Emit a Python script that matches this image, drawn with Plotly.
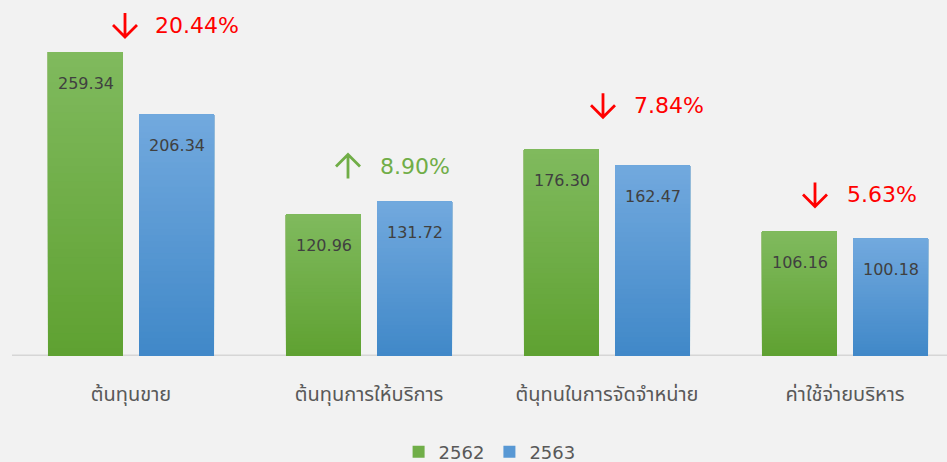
import plotly.graph_objects as go

categories = ["ต้นทุนขาย", "ต้นทุนการให้บริการ", "ต้นุทนในการจัดจำหน่าย", "ค่าใช้จ่ายบริหาร"]
series_names = ["2562", "2563"]
values_2562 = [259.34, 120.96, 176.30, 106.16]
values_2563 = [206.34, 131.72, 162.47, 100.18]
change_pct = ["20.44%", "8.90%", "7.84%", "5.63%"]
change_dir = ["down", "up", "down", "down"]

# styles
grad = {
    "2562": ((0x80, 0xBA, 0x5E), (0x5F, 0xA1, 0x31)),
    "2563": ((0x72, 0xA9, 0xDE), (0x40, 0x88, 0xC8)),
}
legend_col = {"2562": "#70ae48", "2563": "#5898d4"}
arrow_dx = [-6, -21, -4, -30]      # px from category centre
text_dx = [22, 9, 25, 0]
label_dy = [27, 35, 44, 37]        # px above tallest bar
N = 40

x = list(range(len(categories)))
fig = go.Figure()

def mix(c1, c2, t):
    return "rgb(%d,%d,%d)" % tuple(round(a + (b - a) * t) for a, b in zip(c1, c2))

for name, vals in zip(series_names, [values_2562, values_2563]):
    top, bot = grad[name]
    for k in range(N):
        fig.add_trace(go.Bar(
            x=x, y=[v * (N - k) / N for v in vals], base=[v * k / N for v in vals],
            offsetgroup=name, marker=dict(color=mix(bot, top, (k + 0.5) / N), line=dict(width=0)),
            showlegend=False, hoverinfo="skip"))
    fig.add_trace(go.Bar(x=x, y=[None] * len(x), offsetgroup=name, name=name,
                         marker=dict(color=legend_col[name], line=dict(width=0))))

annotations = []
for i, (a, b) in enumerate(zip(values_2562, values_2563)):
    for v, sh in ((a, -45.5), (b, 45.5)):
        annotations.append(dict(x=i, y=v, xref="x", yref="y", text=f"{v:.2f}", showarrow=False,
                                xshift=sh, yshift=-31, yanchor="middle",
                                font=dict(family="DejaVu Sans", size=16, color="#404040")))
    col = "#ff0000" if change_dir[i] == "down" else "#70ad47"
    top = max(a, b)
    annotations.append(dict(x=i, y=top, xref="x", yref="y", text=change_pct[i], showarrow=False,
                            xanchor="left", yanchor="middle", xshift=text_dx[i], yshift=label_dy[i],
                            font=dict(family="DejaVu Sans", size=22, color=col)))

shapes = []
for i, (a, b) in enumerate(zip(values_2562, values_2563)):
    col = "#ff0000" if change_dir[i] == "down" else "#70ad47"
    top = max(a, b)
    cy = label_dy[i]
    dx = arrow_dx[i]
    if change_dir[i] == "down":
        path = (f"M {dx},{cy+12} L {dx},{cy-12} "
                f"M {dx-12},{cy} L {dx},{cy-12} L {dx+12},{cy}")
    else:
        path = (f"M {dx},{cy-12} L {dx},{cy+12} "
                f"M {dx-12},{cy} L {dx},{cy+12} L {dx+12},{cy}")
    shapes.append(dict(type="path", xref="x", yref="y", xsizemode="pixel", ysizemode="pixel",
                       xanchor=i, yanchor=top, path=path, line=dict(color=col, width=2.8)))

shapes.append(dict(type="line", xref="paper", yref="y", x0=12 / 947, x1=1, y0=0, y1=0,
                   line=dict(color="#d6d6d6", width=3), layer="below"))

fig.update_layout(
    width=947, height=462,
    margin=dict(l=0, r=0, t=0, b=106, autoexpand=False),
    paper_bgcolor="#f2f2f2", plot_bgcolor="#f2f2f2",
    barmode="group", bargap=0.235, bargroupgap=0.176,
    showlegend=True,
    legend=dict(orientation="h", x=0.517, xanchor="center", y=-0.27, yanchor="middle",
                font=dict(family="DejaVu Sans", size=18, color="#595959"),
                itemwidth=30, traceorder="normal"),
    xaxis=dict(range=[-131 / 238, 816 / 238], tickmode="array", tickvals=x, ticktext=categories,
               showgrid=False, zeroline=False, showline=False, ticks="", automargin=False,
               ticklabelstandoff=24,
               tickfont=dict(family="Tahoma, Noto Sans Thai, DejaVu Sans", size=20, color="#595959")),
    yaxis=dict(range=[0, 356 / 1.1722], visible=False, showgrid=False, zeroline=False,
               automargin=False),
    annotations=annotations, shapes=shapes,
)

fig.write_html("out.html", config={"displayModeBar": False},
               post_script="document.body.style.margin='0';document.body.style.background='#f2f2f2';")
